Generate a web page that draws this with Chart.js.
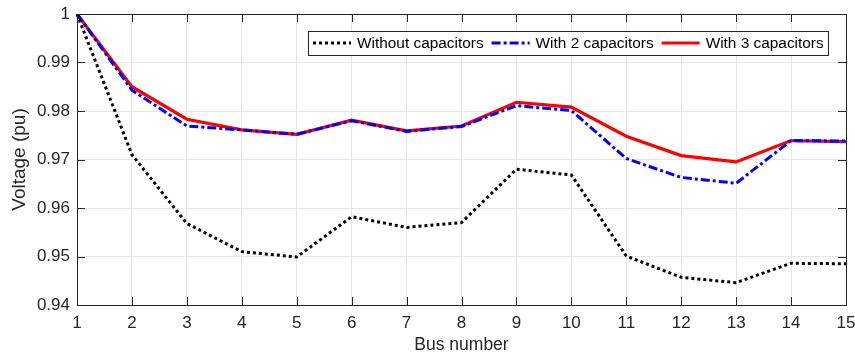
<!DOCTYPE html>
<html lang="en">
  <head>
    <meta charset="UTF-8">
    <title>Bus voltage profile</title>
    <script src="https://cdn.jsdelivr.net/npm/chart.js@4.4.0/dist/chart.umd.min.js"></script>
    <style>
      body { margin: 0; background: #fff; }
    </style>
  </head>
  <body>
    <canvas id="myChart" width="855" height="356"></canvas>

    <script>
      const busNumbers = [1, 2, 3, 4, 5, 6, 7, 8, 9, 10, 11, 12, 13, 14, 15];
      const withoutCaps = [1.0, 0.971, 0.9568, 0.951, 0.9499, 0.9582, 0.956, 0.957, 0.968, 0.9668, 0.9501, 0.9457, 0.9446, 0.9486, 0.9485];
      const with2Caps = [1.0, 0.9843, 0.9769, 0.9761, 0.9752, 0.978, 0.9758, 0.9768, 0.9811, 0.9801, 0.9702, 0.9663, 0.9651, 0.9739, 0.9738];
      const with3Caps = [1.0, 0.985, 0.9783, 0.9761, 0.9752, 0.9781, 0.9759, 0.9769, 0.9818, 0.9808, 0.9748, 0.9708, 0.9695, 0.9739, 0.9737];
      const seriesNames = ['Without capacitors', 'With 2 capacitors', 'With 3 capacitors'];

      const FONT = '"Liberation Sans", Arial, sans-serif';
      const TEXT = '#262626';

      // axes box with inward ticks, like matlab
      const boxPlugin = {
        id: 'box',
        afterDatasetsDraw(chart) {
          const { ctx, chartArea: a, scales } = chart;
          const len = 8;
          ctx.save();
          ctx.strokeStyle = TEXT;
          ctx.lineWidth = 1;
          ctx.beginPath();
          scales.x.ticks.forEach((t, i) => {
            const px = Math.round(scales.x.getPixelForTick(i)) + 0.5;
            ctx.moveTo(px, a.bottom); ctx.lineTo(px, a.bottom - len);
            ctx.moveTo(px, a.top); ctx.lineTo(px, a.top + len);
          });
          scales.y.ticks.forEach(t => {
            const py = Math.round(scales.y.getPixelForValue(t.value)) + 0.5;
            ctx.moveTo(a.left, py); ctx.lineTo(a.left + len, py);
            ctx.moveTo(a.right, py); ctx.lineTo(a.right - len, py);
          });
          ctx.stroke();
          ctx.strokeRect(Math.round(a.left) + 0.5, Math.round(a.top) + 0.5,
            Math.round(a.right - a.left), Math.round(a.bottom - a.top));
          ctx.restore();
        }
      };

      const legendPlugin = {
        id: 'boxLegend',
        afterDraw(chart) {
          const { ctx, chartArea: a } = chart;
          const x0 = a.left + 231, y0 = a.top + 17, w = 520, h = 24;
          const cy = y0 + h / 2;
          ctx.save();
          ctx.fillStyle = '#fff';
          ctx.fillRect(x0, y0, w, h);
          ctx.strokeStyle = TEXT;
          ctx.lineWidth = 1;
          ctx.strokeRect(x0 + 0.5, y0 + 0.5, w, h);
          ctx.font = '15.4px ' + FONT;
          ctx.textBaseline = 'middle';
          let x = x0 + 5;
          chart.data.datasets.forEach(ds => {
            ctx.beginPath();
            ctx.strokeStyle = ds.borderColor;
            ctx.lineWidth = ds.borderWidth;
            ctx.setLineDash(ds.borderDash || []);
            ctx.moveTo(x, cy); ctx.lineTo(x + 38, cy);
            ctx.stroke();
            ctx.setLineDash([]);
            ctx.fillStyle = '#000';
            ctx.fillText(ds.label, x + 44, cy + 1);
            x += 44 + ctx.measureText(ds.label).width + 8;
          });
          ctx.restore();
        }
      };

      const ctx = document.getElementById('myChart').getContext('2d');
      new Chart(ctx, {
        type: 'line',
        data: {
          labels: busNumbers,
          datasets: [
            {
              label: seriesNames[0],
              data: withoutCaps,
              borderColor: '#000000',
              borderWidth: 3,
              borderDash: [3, 3]
            },
            {
              label: seriesNames[1],
              data: with2Caps,
              borderColor: '#0000ff',
              borderWidth: 3,
              borderDash: [9, 3, 3, 3]
            },
            {
              label: seriesNames[2],
              data: with3Caps,
              borderColor: '#ff0000',
              borderWidth: 3.2
            }
          ]
        },
        options: {
          responsive: false,
          animation: false,
          elements: { point: { radius: 0 }, line: { tension: 0 } },
          layout: { padding: { top: 14, right: 9, left: 0, bottom: 0 } },
          plugins: { legend: { display: false }, tooltip: { enabled: false } },
          scales: {
            x: {
              grid: { color: '#e6e6e6', drawTicks: false },
              border: { display: false },
              ticks: { color: TEXT, font: { family: FONT, size: 17 }, padding: 8, maxRotation: 0 },
              title: { display: true, text: 'Bus number', color: TEXT, font: { family: FONT, size: 17.5 }, padding: { top: 0, bottom: 0 } },
              afterFit(s) { s.height = 51; s.paddingRight = 0; s.paddingLeft = 0; }
            },
            y: {
              min: 0.94,
              max: 1,
              grid: { color: '#e6e6e6', drawTicks: false },
              border: { display: false },
              ticks: {
                stepSize: 0.01,
                color: TEXT,
                font: { family: FONT, size: 17 },
                padding: 7,
                callback: v => String(+v.toFixed(2))
              },
              title: { display: true, text: 'Voltage (pu)', color: TEXT, font: { family: FONT, size: 19 }, padding: { top: 8, bottom: 0 } },
              afterFit(s) { s.width = 77; s.paddingTop = 0; s.paddingBottom = 0; }
            }
          }
        },
        plugins: [boxPlugin, legendPlugin]
      });
    </script>
  </body>
</html>
